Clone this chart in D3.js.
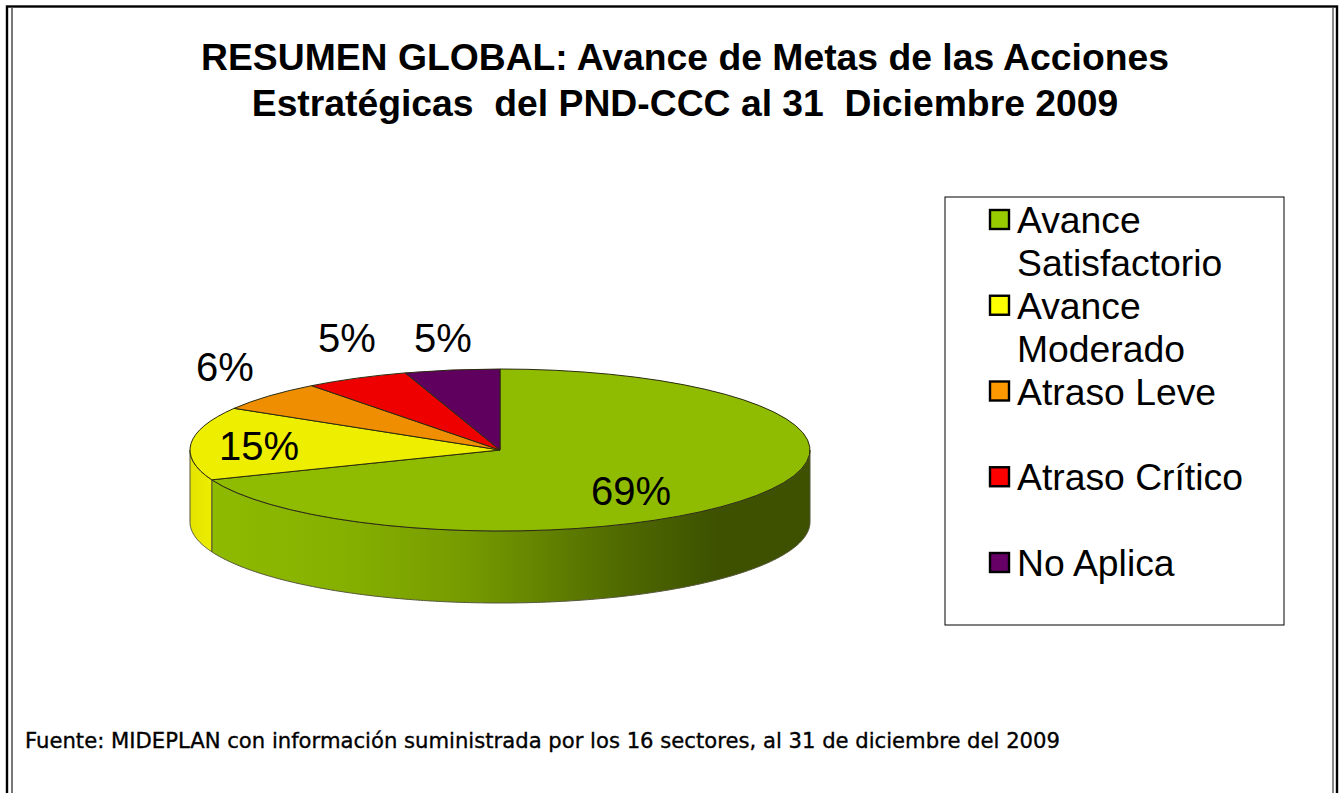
<!DOCTYPE html>
<html><head><meta charset="utf-8">
<script src="https://cdn.jsdelivr.net/npm/d3@7/dist/d3.min.js"></script>
<style>html,body{margin:0;padding:0;background:#fff}svg{display:block}</style></head>
<body><svg id="c" width="1342" height="793"></svg>
<script>
const titleLines = ["RESUMEN GLOBAL: Avance de Metas de las Acciones", "Estratégicas  del PND-CCC al 31  Diciembre 2009"];
const footnote = "Fuente: MIDEPLAN con información suministrada por los 16 sectores, al 31 de diciembre del 2009";
const categories = ["Avance Satisfactorio", "Avance Moderado", "Atraso Leve", "Atraso Crítico", "No Aplica"];
const legendLines = [["Avance", "Satisfactorio"], ["Avance", "Moderado"], ["Atraso Leve"], ["Atraso Crítico"], ["No Aplica"]];
const values = [69, 14.6, 6, 5.45, 4.95];
const topColors = ["#8fbc00", "#eeee00", "#ee8e00", "#ee0000", "#5f005f"];
const swatchColors = ["#99cc00", "#ffff00", "#ff9900", "#ff0000", "#660066"];
const labelPos = [[631, 505], [259, 460], [225, 381], [347, 352], [443, 352]];

const svg = d3.select("#c");
const cx = 500, cy = 450, rx = 310, ry = 81, depth = 72;

// frame
svg.append("rect").attr("x", 7).attr("y", 6.5).attr("width", 1330).attr("height", 800).attr("fill", "none").attr("stroke", "#000").attr("stroke-width", 2.4);
svg.append("line").attr("x1", 12).attr("x2", 12).attr("y1", 8).attr("y2", 793).attr("stroke", "#777").attr("stroke-width", 2);
svg.append("line").attr("x1", 1333).attr("x2", 1333).attr("y1", 8).attr("y2", 793).attr("stroke", "#888").attr("stroke-width", 2);

// title
svg.append("g").selectAll("text").data(titleLines).join("text")
  .attr("x", 685).attr("y", (d, i) => 70 + i * 46)
  .attr("text-anchor", "middle").attr("font-family", "Liberation Sans").attr("font-weight", "bold").attr("font-size", 37.3).style("white-space", "pre").text(d => d);

// pie
const defs = svg.append("defs");
const grad = defs.append("linearGradient").attr("id", "wall").attr("gradientUnits", "userSpaceOnUse").attr("x1", cx - rx).attr("x2", cx + rx).attr("y1", 0).attr("y2", 0);
[[0, "#8fbc00"], [0.25, "#86b000"], [0.45, "#759a00"], [0.7, "#4f6900"], [0.85, "#3d5100"], [1, "#3d5100"]].forEach(s => grad.append("stop").attr("offset", s[0]).attr("stop-color", s[1]));
const grad2 = defs.append("linearGradient").attr("id", "wallY").attr("gradientUnits", "userSpaceOnUse").attr("x1", cx - rx).attr("x2", cx - rx + 24).attr("y1", 0).attr("y2", 0);
[[0, "#e3e300"], [1, "#eeee00"]].forEach(s => grad2.append("stop").attr("offset", s[0]).attr("stop-color", s[1]));

const arcs = d3.pie().sort(null).value(d => d)(values);
const px = a => cx + rx * Math.sin(a), py = a => cy - ry * Math.cos(a);
const line = d3.line();
const wall = (a0, a1) => {
  const s = Math.max(a0, Math.PI / 2), e = Math.min(a1, 3 * Math.PI / 2);
  if (e <= s) return null;
  const as = d3.range(s, e, 0.01).concat(e);
  const pts = as.map(a => [px(a), py(a)]).concat(as.slice().reverse().map(a => [px(a), py(a) + depth]));
  return line(pts) + "Z";
};
const g = svg.append("g");
arcs.forEach((d, i) => {
  const w = wall(d.startAngle, d.endAngle);
  if (w) g.append("path").attr("d", w).attr("fill", i === 0 ? "url(#wall)" : i === 1 ? "url(#wallY)" : topColors[i]).attr("stroke", "#55553a").attr("stroke-width", 1);
});
const arc = d3.arc().innerRadius(0).outerRadius(rx);
g.append("g").attr("transform", `translate(${cx},${cy}) scale(1,${ry / rx})`)
  .selectAll("path").data(arcs).join("path").attr("d", arc)
  .attr("fill", (d, i) => topColors[i]).attr("stroke", "#2b2b10").attr("stroke-width", 1).attr("vector-effect", "non-scaling-stroke");

// data labels
svg.append("g").selectAll("text").data(values).join("text")
  .attr("x", (d, i) => labelPos[i][0]).attr("y", (d, i) => labelPos[i][1])
  .attr("text-anchor", "middle").attr("font-family", "Liberation Sans").attr("font-size", 40).attr("fill", "#000")
  .text(d => Math.round(d) + "%");

// legend
svg.append("rect").attr("x", 945).attr("y", 197).attr("width", 339).attr("height", 428).attr("fill", "#fff").attr("stroke", "#000").attr("stroke-width", 1);
const y = d3.scalePoint().domain(d3.range(5)).range([220, 563]);
const lg = svg.append("g").selectAll("g").data(categories).join("g");
lg.append("rect").attr("x", 990).attr("y", (d, i) => y(i) - 10).attr("width", 19).attr("height", 19).attr("fill", (d, i) => swatchColors[i]).attr("stroke", "#000").attr("stroke-width", 2.4);
lg.each(function (d, i) {
  d3.select(this).selectAll("text").data(legendLines[i]).join("text")
    .attr("x", 1017).attr("y", (t, j) => y(i) + 13 + j * 42.8)
    .attr("font-family", "Liberation Sans").attr("font-size", 37.3).attr("fill", "#000").text(t => t);
});

// footnote
svg.append("text").attr("x", 25).attr("y", 748).attr("font-family", "DejaVu Sans").attr("font-size", 22).attr("fill", "#000").attr("textLength", 1035).attr("lengthAdjust", "spacingAndGlyphs").attr("stroke", "#000").attr("stroke-width", 0.35).text(footnote);
</script></body></html>
